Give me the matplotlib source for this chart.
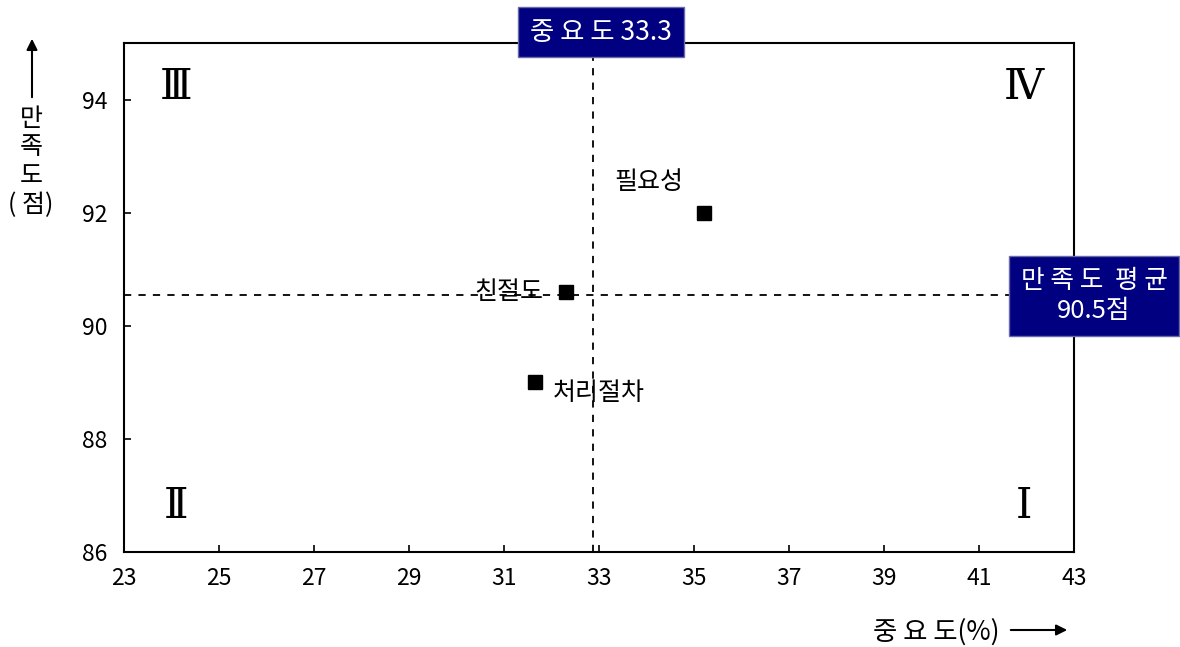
import matplotlib
matplotlib.use("Agg")
import matplotlib.pyplot as plt
from matplotlib.patches import FancyArrowPatch

plt.rcParams['font.family'] = ['Noto Sans CJK KR', 'DejaVu Sans']

# Data
items = ['필요성', '친절도', '처리절차']
importance = [35.2, 32.3, 31.65]
satisfaction = [92.0, 90.6, 89.0]
importance_mean = 32.87
satisfaction_mean = 90.55
xticks = [23, 25, 27, 29, 31, 33, 35, 37, 39, 41, 43]
yticks = [86, 88, 90, 92, 94]
quadrants = ['Ⅲ', 'Ⅳ', 'Ⅱ', 'Ⅰ']

fig = plt.figure(figsize=(11.8, 6.47), dpi=100)
ax = fig.add_axes([124/1180, 95/647, 950/1180, 509/647])
ax.set_xlim(23, 43)
ax.set_ylim(86, 95)
ax.set_xticks(xticks)
ax.set_yticks(yticks)
ax.tick_params(direction='in', length=5, width=1.2, labelsize=16.5)
ax.tick_params(axis='x', pad=11)
ax.tick_params(axis='y', pad=12)
for s in ax.spines.values():
    s.set_linewidth(1.5)

ax.axvline(importance_mean, color='black', linestyle=(0, (4, 4)), linewidth=1.3)
ax.axhline(satisfaction_mean, color='black', linestyle=(0, (4, 4)), linewidth=1.3)

ax.plot(importance, satisfaction, 's', color='black', markersize=10, zorder=5)

# point labels
ax.annotate(items[0], (importance[0], satisfaction[0]), xytext=(-39, 22),
            textcoords='offset points', fontsize=18, ha='center', va='center')
ax.annotate(items[1], (importance[1], satisfaction[1]), xytext=(-16, 0),
            textcoords='offset points', fontsize=18, ha='right', va='center')
ax.annotate(items[2], (importance[2], satisfaction[2]), xytext=(46, -8),
            textcoords='offset points', fontsize=18, ha='center', va='center')

# quadrant labels
qfont = dict(family=['DejaVu Serif', 'Liberation Serif', 'DejaVu Sans'], fontsize=30,
             ha='center', va='center')
ax.text(24.1, 94.22, quadrants[0], **qfont)
ax.text(41.95, 94.22, quadrants[1], **qfont)
ax.text(24.1, 86.82, quadrants[2], **qfont)
ax.text(41.95, 86.82, quadrants[3], **qfont)

# mean boxes
fig.text(601/1180, 1 - 32/647, '중 요 도 33.3', fontsize=19, color='white',
         ha='center', va='center',
         bbox=dict(boxstyle='square,pad=0.45', facecolor='#000080', edgecolor='#6a6aa8', linewidth=1))
fig.text(1094/1180, 1 - 296/647, '만 족 도  평 균\n90.5점',
         fontsize=18.5, color='white', ha='center', va='center', linespacing=1.2,
         bbox=dict(boxstyle='square,pad=0.45', facecolor='#000080', edgecolor='#6a6aa8', linewidth=1))

# axis titles with arrows
fig.text(31/1180, 1 - 162/647, '만\n족\n도\n( 점)', fontsize=18, ha='center', va='center',
         linespacing=1.15)
fig.add_artist(FancyArrowPatch((32/1180, 1 - 100/647), (32/1180, 1 - 36/647),
               transform=fig.transFigure, arrowstyle='-|>', mutation_scale=16, color='black', linewidth=1.5))
fig.text(936/1180, 1 - 632/647, '중 요 도(%)', fontsize=19, ha='center', va='center')
fig.add_artist(FancyArrowPatch((1008/1180, 1 - 630/647), (1070/1180, 1 - 630/647),
               transform=fig.transFigure, arrowstyle='-|>', mutation_scale=16, color='black', linewidth=1.5))

fig.savefig('out.png', dpi=100)
